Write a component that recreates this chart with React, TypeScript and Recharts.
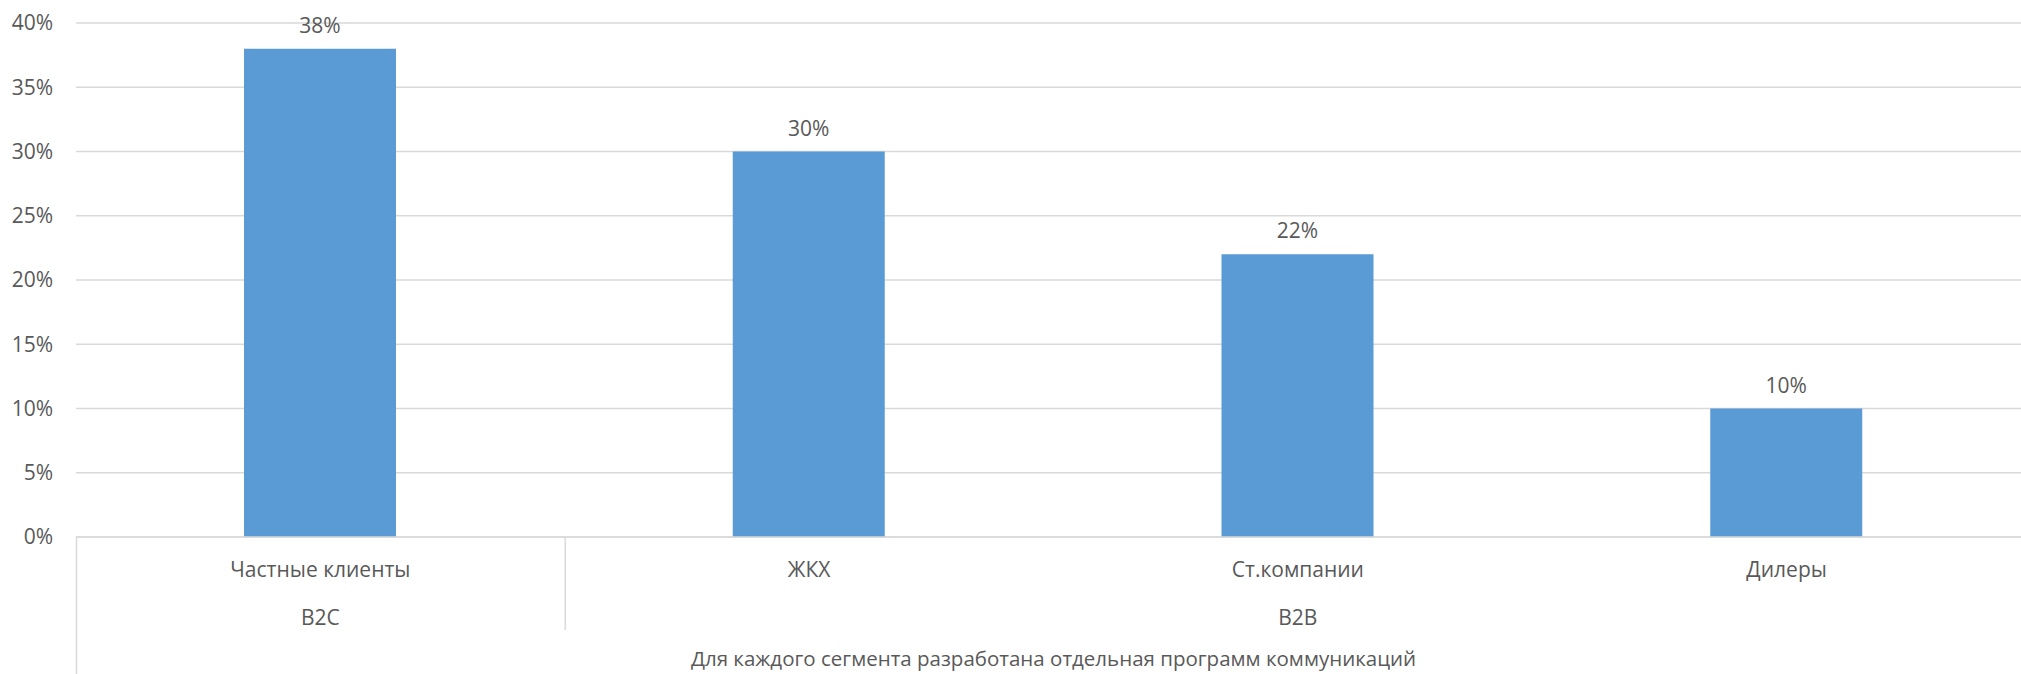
import React from "react";
import { BarChart, Bar, XAxis, YAxis, CartesianGrid, LabelList } from "recharts";

const categories = ["Частные клиенты", "ЖКХ", "Ст.компании", "Дилеры"];
const groups = ["B2C", "B2B", "B2B", "B2B"];
const values = [38, 30, 22, 10];
const yTicks = [0, 5, 10, 15, 20, 25, 30, 35, 40];
const outerTitle = "Для каждого сегмента разработана отдельная программ коммуникаций";

const data = categories.map((c, i) => ({ name: c, group: groups[i], value: values[i] }));

const FONT = "'Open Sans', sans-serif";
const FS = 21;
const TEXT = "#595959";
const GRID = "#D9D9D9";

const AXIS_Y = 537;

const XTick = (props: any) => {
  const { x, index, payload } = props;
  const half = payload.offset;
  const left = x - half;
  const els: any[] = [];
  els.push(
    <text key="c" x={x} y={569} textAnchor="middle" dominantBaseline="central" fill={TEXT} fontSize={FS} fontFamily={FONT}>
      {payload.value}
    </text>
  );
  const isGroupStart = index === 0 || groups[index] !== groups[index - 1];
  if (isGroupStart) {
    let n = 0;
    while (index + n < groups.length && groups[index + n] === groups[index]) n++;
    els.push(
      <text key="g" x={left + n * half} y={617} textAnchor="middle" dominantBaseline="central" fill={TEXT} fontSize={FS} fontFamily={FONT}>
        {groups[index]}
      </text>
    );
    els.push(
      <line key="gl" x1={left + 0.5} x2={left + 0.5} y1={AXIS_Y} y2={index === 0 ? 674 : 630} stroke={GRID} strokeWidth={1.5} />
    );
  }
  if (index === 0) {
    els.push(
      <text key="o" x={left + categories.length * half} y={658} textAnchor="middle" dominantBaseline="central" fill={TEXT} fontSize={20.5} fontFamily={FONT}>
        {outerTitle}
      </text>
    );
  }
  return <g>{els}</g>;
};

const TopLabel = (props: any) => {
  const { x, y, width, value } = props;
  return (
    <text x={x + width / 2} y={y - 24} textAnchor="middle" dominantBaseline="central" fill={TEXT} fontSize={FS} fontFamily={FONT}>
      {value}%
    </text>
  );
};

export default function App() {
  return (
    <div style={{ position: "absolute", left: 0, top: 0, width: 2021, height: 674, overflow: "hidden", background: "#fff" }}>
      <BarChart
        width={2040}
        height={674}
        data={data}
        margin={{ top: 23, right: 9, left: 0, bottom: 0 }}
      >
        <CartesianGrid vertical={false} stroke={GRID} strokeWidth={1.5} />
        <XAxis
          dataKey="name"
          height={137}
          axisLine={{ stroke: GRID, strokeWidth: 1.5 }}
          tickLine={false}
          interval={0}
          tick={<XTick />}
        />
        <YAxis
          width={76}
          domain={[0, 40]}
          ticks={yTicks}
          axisLine={false}
          tickLine={false}
          tickSize={0}
          tickMargin={23}
          tickFormatter={(v: number) => `${v}%`}
          tick={{ fill: TEXT, fontSize: FS, fontFamily: FONT }}
        />
        <Bar dataKey="value" fill="#5B9BD5" barSize={152} isAnimationActive={false}>
          <LabelList dataKey="value" content={<TopLabel />} />
        </Bar>
      </BarChart>
    </div>
  );
}
